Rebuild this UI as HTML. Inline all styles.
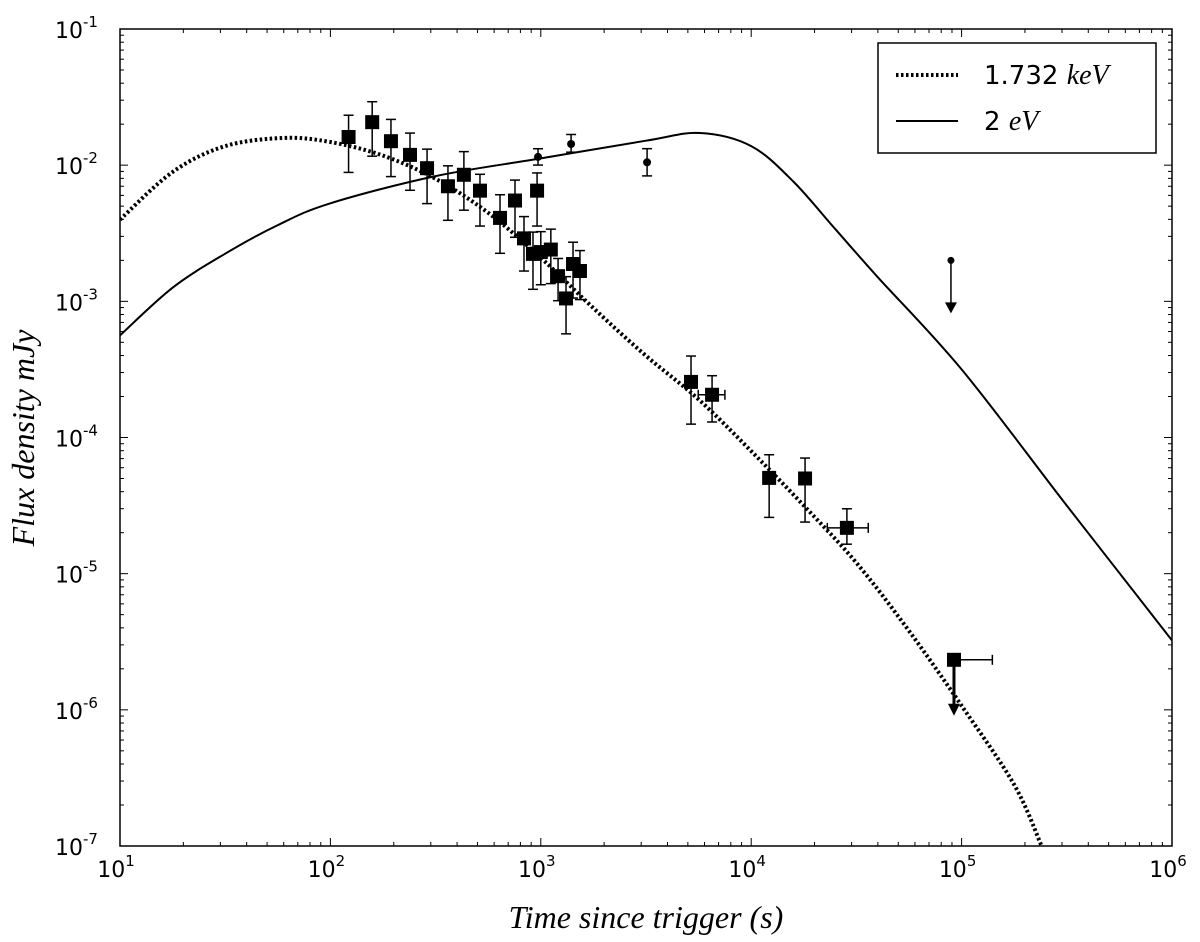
<!DOCTYPE html>
<html><head><meta charset="utf-8"><style>
body{margin:0;background:#fff;}
svg{display:block;font-family:"DejaVu Sans","Liberation Sans",sans-serif;}
.it{font-family:"Liberation Serif",serif;font-style:italic;}
</style></head><body>
<svg id="chart" width="1200" height="942"></svg>
<script>
// Data (log10 time, log10 flux for curves; raw values for points)
const xrayCurveLogT=[1,1.25,1.5,1.78,2,2.25,2.5,2.75,3,3.25,3.5,3.75,4,4.25,4.5,4.75,5,5.25,5.38];
const xrayCurveLogF=[-2.4,-2.05,-1.86,-1.8,-1.83,-1.93,-2.1,-2.35,-2.68,-3.05,-3.4,-3.72,-4.1,-4.5,-4.92,-5.42,-5.97,-6.55,-7];
const optCurveLogT=[1,1.25,1.5,1.75,2,2.5,3,3.5,3.757,4,4.2,4.4,4.6,5,5.5,6];
const optCurveLogF=[-3.25,-2.9,-2.65,-2.44,-2.28,-2.08,-1.95,-1.82,-1.764,-1.86,-2.12,-2.47,-2.82,-3.5,-4.5,-5.49];
const xrayT=[122,158,194,239,288,362,431,514,640,754,832,918,1000,1116,960,1208,1318,1423,1535,5176,6516,12170,18030,28500];
const xrayF=[1.61e-2,2.07e-2,1.5e-2,1.19e-2,9.5e-3,7.0e-3,8.5e-3,6.5e-3,4.1e-3,5.5e-3,2.9e-3,2.23e-3,2.3e-3,2.4e-3,6.5e-3,1.53e-3,1.05e-3,1.88e-3,1.67e-3,2.56e-4,2.06e-4,5.05e-5,5.0e-5,2.17e-5];
const xrayErrUpDex=[0.16,0.15,0.16,0.16,0.14,0.15,0.17,0.12,0.17,0.15,0.16,0.16,0.15,0.15,0.13,0.13,0.16,0.16,0.15,0.19,0.14,0.17,0.15,0.14];
const xrayErrDnDex=[0.26,0.25,0.26,0.26,0.26,0.25,0.26,0.26,0.26,0.27,0.24,0.26,0.24,0.25,0.26,0.18,0.26,0.25,0.21,0.31,0.2,0.29,0.32,0.12];
const xrayXErrLo=[0,0,0,0,0,0,0,0,0,0,0,0,0,0,0,0,0,0,0,0,5600,0,0,23000];
const xrayXErrHi=[0,0,0,0,0,0,0,0,0,0,0,0,0,0,0,0,0,0,0,0,7500,0,0,36000];
const optT=[970,1393,3200];
const optF=[1.15e-2,1.43e-2,1.05e-2];
const optErrUpDex=[0.06,0.07,0.1];
const optErrDnDex=[0.06,0.06,0.1];
const xrayLimitT=[92000], xrayLimitF=[2.33e-6], xrayLimitTHi=[140000];
const optLimitT=[89000], optLimitF=[2.0e-3];
const xTickLabels=["1","2","3","4","5","6"];
const yTickLabels=["-1","-2","-3","-4","-5","-6","-7"];

const L=120,R=1172,T=29,B=846;
const X=lt=>L+(lt-1)*(R-L)/5;
const Y=lf=>T+(-1-lf)*(B-T)/6;
const xs=v=>X(Math.log10(v)), ys=v=>Y(Math.log10(v));
const svg=document.getElementById('chart');
const NS="http://www.w3.org/2000/svg";
function mk(tag,attrs,parent){const e=document.createElementNS(NS,tag);for(const k in attrs)e.setAttribute(k,attrs[k]);(parent||svg).appendChild(e);return e;}

const axes=mk('g',{});


for(let d=1;d<=6;d++){
  for(let m=1;m<10;m++){
    const lt=d+Math.log10(m); if(lt>6.0001)break;
    const x=X(lt),len=m==1?8:4;
    mk('line',{x1:x,x2:x,y1:B,y2:B-len,stroke:'#000'},axes);
    mk('line',{x1:x,x2:x,y1:T,y2:T+len,stroke:'#000'},axes);
  }
}
xTickLabels.forEach((p,i)=>{const x=X(i+1);
  const t=mk('text',{x:x-4,y:877,'font-size':22,'text-anchor':'middle'},axes);
  
  
  t.innerHTML='10<tspan dy="-11" font-size="15">'+p+'</tspan>';});
for(let d=-7;d<=-1;d++){
  for(let m=1;m<10;m++){const lf=d+Math.log10(m); if(lf>-0.9999)break;
    const y=Y(lf),len=m==1?8:4;
    mk('line',{x1:L,x2:L+len,y1:y,y2:y,stroke:'#000'},axes);
    mk('line',{x1:R,x2:R-len,y1:y,y2:y,stroke:'#000'},axes);}
}
yTickLabels.forEach((p,i)=>{const y=Y(-1-i);
  const t=mk('text',{x:55,y:y+9,'font-size':22},axes);
  
  
  t.innerHTML='10<tspan dy="-11" font-size="15">'+p+'</tspan>';});

function curve(lt,lf,attrs,name){
  const P=lt.map((v,i)=>[X(v),Y(lf[i])]);
  let d='M'+P[0][0].toFixed(1)+','+P[0][1].toFixed(1);
  for(let i=0;i<P.length-1;i++){
    const p0=P[Math.max(0,i-1)],p1=P[i],p2=P[i+1],p3=P[Math.min(P.length-1,i+2)];
    const c1=[p1[0]+(p2[0]-p0[0])/6,p1[1]+(p2[1]-p0[1])/6];
    const c2=[p2[0]-(p3[0]-p1[0])/6,p2[1]-(p3[1]-p1[1])/6];
    d+='C'+c1.map(v=>v.toFixed(1))+' '+c2.map(v=>v.toFixed(1))+' '+p2.map(v=>v.toFixed(1));
  }
  const p=mk('path',Object.assign({d:d,fill:'none',stroke:'#000'},attrs));
  
  }
const clip=mk('clipPath',{id:'c'});mk('rect',{x:L,y:T,width:R-L,height:B-T},clip);
curve(optCurveLogT,optCurveLogF,{'stroke-width':2,'clip-path':'url(#c)'},'optical-model-curve');
curve(xrayCurveLogT,xrayCurveLogF,{'stroke-width':4,'stroke-dasharray':'2.5,2.5','clip-path':'url(#c)'},'xray-model-curve');

xrayT.forEach((t,i)=>{const x=xs(t),y=ys(xrayF[i]);
  const g=mk('g',{});
  
  
  const yu=Y(Math.log10(xrayF[i])+xrayErrUpDex[i]),yd=Y(Math.log10(xrayF[i])-xrayErrDnDex[i]);
  mk('line',{x1:x,x2:x,y1:yu,y2:yd,stroke:'#000','stroke-width':1.5},g);
  mk('line',{x1:x-5,x2:x+5,y1:yu,y2:yu,stroke:'#000','stroke-width':1.5},g);
  mk('line',{x1:x-5,x2:x+5,y1:yd,y2:yd,stroke:'#000','stroke-width':1.5},g);
  if(xrayXErrLo[i]){const a=xs(xrayXErrLo[i]),b=xs(xrayXErrHi[i]);
    mk('line',{x1:a,x2:b,y1:y,y2:y,stroke:'#000','stroke-width':1.5},g);
    mk('line',{x1:a,x2:a,y1:y-5,y2:y+5,stroke:'#000','stroke-width':1.5},g);
    mk('line',{x1:b,x2:b,y1:y-5,y2:y+5,stroke:'#000','stroke-width':1.5},g);}
  mk('rect',{x:x-7,y:y-7,width:14,height:14,fill:'#000'},g);
});
optT.forEach((t,i)=>{const x=xs(t),y=ys(optF[i]);
  const g=mk('g',{});
  
  
  const yu=Y(Math.log10(optF[i])+optErrUpDex[i]),yd=Y(Math.log10(optF[i])-optErrDnDex[i]);
  mk('line',{x1:x,x2:x,y1:yu,y2:yd,stroke:'#000','stroke-width':1.5},g);
  mk('line',{x1:x-5,x2:x+5,y1:yu,y2:yu,stroke:'#000','stroke-width':1.5},g);
  mk('line',{x1:x-5,x2:x+5,y1:yd,y2:yd,stroke:'#000','stroke-width':1.5},g);
  mk('circle',{cx:x,cy:y,r:4,fill:'#000'},g);
});
xrayLimitT.forEach((t,i)=>{const x=xs(t),y=ys(xrayLimitF[i]);
  const g=mk('g',{});
  
  
  mk('line',{x1:x,x2:xs(xrayLimitTHi[i]),y1:y,y2:y,stroke:'#000','stroke-width':1.5},g);
  mk('line',{x1:xs(xrayLimitTHi[i]),x2:xs(xrayLimitTHi[i]),y1:y-5,y2:y+5,stroke:'#000','stroke-width':1.5},g);
  mk('line',{x1:x,x2:x,y1:y,y2:y+46,stroke:'#000','stroke-width':3},g);
  mk('path',{d:`M${x-6},${y+44}L${x+6},${y+44}L${x},${y+56}Z`,fill:'#000'},g);
  mk('rect',{x:x-7,y:y-7,width:14,height:14,fill:'#000'},g);});
optLimitT.forEach((t,i)=>{const x=xs(t),y=ys(optLimitF[i]);
  const g=mk('g',{});
  
  
  mk('line',{x1:x,x2:x,y1:y,y2:y+44,stroke:'#000','stroke-width':1.5},g);
  mk('path',{d:`M${x-6},${y+42}L${x+6},${y+42}L${x},${y+53}Z`,fill:'#000'},g);
  mk('circle',{cx:x,cy:y,r:3.5,fill:'#000'},g);});

mk('rect',{x:L,y:T,width:R-L,height:B-T,fill:'none',stroke:'#000','stroke-width':1.5});

const lg=mk('g',{});


mk('rect',{x:878,y:43,width:278,height:110,fill:'#fff',stroke:'#000','stroke-width':1.5},lg);
mk('line',{x1:896,x2:958,y1:75,y2:75,stroke:'#000','stroke-width':4,'stroke-dasharray':'2.5,2.5'},lg);
mk('line',{x1:896,x2:958,y1:121,y2:121,stroke:'#000','stroke-width':2},lg);
const t1=mk('text',{x:984,y:84,'font-size':26},lg);


t1.innerHTML='1.732 <tspan class="it" font-size="28">keV</tspan>';
const t2=mk('text',{x:984,y:130,'font-size':26},lg);


t2.innerHTML='2 <tspan class="it" font-size="28">eV</tspan>';

const xt=mk('text',{x:646,y:928,'font-size':32,'text-anchor':'middle',class:'it'});


xt.textContent='Time since trigger (s)';
const yt=mk('text',{x:0,y:0,'font-size':32,'text-anchor':'middle',class:'it',transform:'translate(34,438) rotate(-90)'});


yt.textContent='Flux density mJy';
</script>
</body></html>
